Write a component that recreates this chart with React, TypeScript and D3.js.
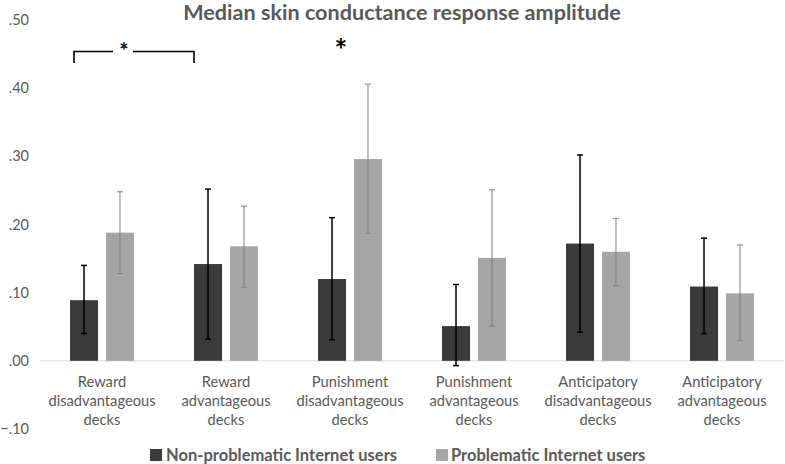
import React from "react";
import * as d3 from "d3";

const categories: string[][] = [
  ["Reward", "disadvantageous", "decks"],
  ["Reward", "advantageous", "decks"],
  ["Punishment", "disadvantageous", "decks"],
  ["Punishment", "advantageous", "decks"],
  ["Anticipatory", "disadvantageous", "decks"],
  ["Anticipatory", "advantageous", "decks"],
];
const seriesNames = ["Non-problematic Internet users", "Problematic Internet users"];
const nonProblematic = [0.089, 0.142, 0.12, 0.051, 0.172, 0.109];
const nonProblematicLow = [0.04, 0.032, 0.031, -0.007, 0.042, 0.04];
const nonProblematicHigh = [0.14, 0.252, 0.21, 0.112, 0.302, 0.18];
const problematic = [0.188, 0.168, 0.296, 0.151, 0.16, 0.099];
const problematicLow = [0.128, 0.108, 0.187, 0.051, 0.11, 0.03];
const problematicHigh = [0.248, 0.227, 0.406, 0.251, 0.209, 0.17];
const yTicks = [-0.1, 0, 0.1, 0.2, 0.3, 0.4, 0.5];
const title = "Median skin conductance response amplitude";

const W = 785;
const H = 464;
const font = "Lato, 'Open Sans', sans-serif";
const textGrey = "#595959";
const barColors = ["#3b3b3b", "#a5a5a5"];
const errColors = ["#000000", "#7f7f7f"];

export default function App() {
  const idx = categories.map((_, i) => i);
  const x0 = d3.scaleBand<number>().domain(idx).range([40, 784]).paddingInner(0).paddingOuter(0);
  const x1 = d3.scaleBand<number>().domain([0, 1]).range([30, 94]).paddingInner(0.22);
  const y = d3.scaleLinear().domain([-0.1, 0.5]).range([429, 20]);
  const fmt = (v: number) => d3.format(".2f")(v).replace("0.", ".");

  const series = [
    { vals: nonProblematic, lo: nonProblematicLow, hi: nonProblematicHigh },
    { vals: problematic, lo: problematicLow, hi: problematicHigh },
  ];
  const bw = x1.bandwidth();
  const cap = 3;

  const bL = (x0(0) as number) + (x1(0) as number) + 4;
  const bR = (x0(1) as number) + (x1(0) as number);
  const bStar = bL + 50;
  const bTop = 51.5;
  const bBot = 63;

  return (
    <svg width={W} height={H} style={{ position: "absolute", left: 0, top: 0, background: "#fff" }}>
      <rect width={W} height={H} fill="#fff" />
      <text x={402} y={20} textAnchor="middle" fontFamily={font} fontWeight={700} fontSize={21.6} fill={textGrey}>
        {title}
      </text>
      {yTicks.map((t) => (
        <text key={t} x={29} y={y(t) + 5} textAnchor="end" fontFamily={font} fontSize={14.5} fill={textGrey}>
          {fmt(t)}
        </text>
      ))}
      <line x1={40} x2={784} y1={y(0)} y2={y(0)} stroke="#d9d9d9" strokeWidth={1} />
      {series.map((s, si) =>
        s.vals.map((v, i) => {
          const bx = (x0(i) as number) + (x1(si) as number);
          return (
            <rect key={`b${si}-${i}`} x={bx} y={Math.min(y(v), y(0))} width={bw} height={Math.abs(y(0) - y(v))} fill={barColors[si]} />
          );
        })
      )}
      {series.map((s, si) =>
        s.vals.map((_, i) => {
          const cx = (x0(i) as number) + (x1(si) as number) + bw / 2;
          const sw = si === 0 ? 1.5 : 1;
          return (
            <g key={`e${si}-${i}`} stroke={errColors[si]} strokeWidth={sw}>
              <line x1={cx} x2={cx} y1={y(s.hi[i])} y2={y(s.lo[i])} />
              <line x1={cx - cap} x2={cx + cap} y1={y(s.hi[i])} y2={y(s.hi[i])} />
              <line x1={cx - cap} x2={cx + cap} y1={y(s.lo[i])} y2={y(s.lo[i])} />
            </g>
          );
        })
      )}
      <path
        d={`M${bL},${bBot}V${bTop}H${bStar - 11}M${bStar + 9},${bTop}H${bR}V${bBot}`}
        fill="none"
        stroke="#000"
        strokeWidth={1.6}
      />
      <text x={bStar} y={59} textAnchor="middle" fontFamily={font} fontWeight={700} fontSize={22} fill="#000">
        *
      </text>
      <text x={(x0(2) as number) + 53} y={61} textAnchor="middle" fontFamily={font} fontWeight={700} fontSize={30} fill="#000">
        *
      </text>
      {categories.map((lines, i) => (
        <text key={`c${i}`} textAnchor="middle" fontFamily={font} fontSize={14.7} fill={textGrey}>
          {lines.map((ln, li) => (
            <tspan key={li} x={(x0(i) as number) + x0.bandwidth() / 2} y={387 + li * 19}>
              {ln}
            </tspan>
          ))}
        </text>
      ))}
      <g fontFamily={font} fontWeight={700} fontSize={16.5} fill={textGrey}>
        <rect x={150} y={449} width={12} height={12} fill={barColors[0]} />
        <text x={166} y={460.5}>{seriesNames[0]}</text>
        <rect x={436} y={449} width={12} height={12} fill={barColors[1]} />
        <text x={451} y={460.5}>{seriesNames[1]}</text>
      </g>
    </svg>
  );
}
